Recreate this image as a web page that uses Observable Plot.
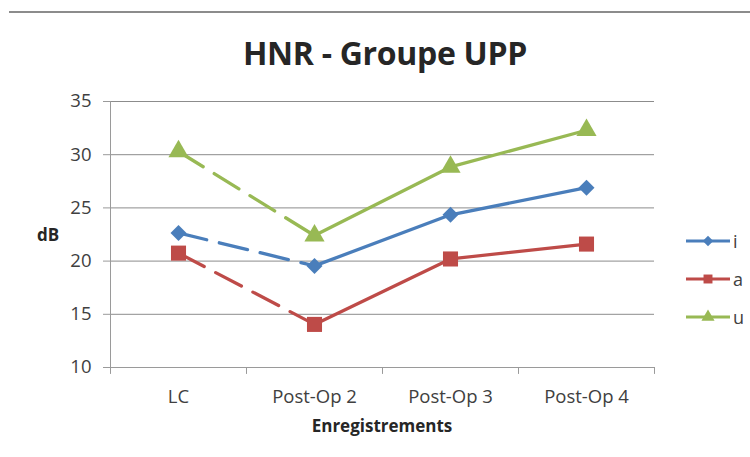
<!DOCTYPE html>
<html><head><meta charset="utf-8">
<script src="https://cdn.jsdelivr.net/npm/d3@7"></script>
<script src="https://cdn.jsdelivr.net/npm/@observablehq/plot@0.6"></script>
<style>
body{margin:0;background:#fff;font-family:"Open Sans",Lato,sans-serif;}
#chart{position:relative;width:750px;height:457px;overflow:hidden;background:#fff;}
#chart svg.plot{position:absolute;left:0;top:0;}
#frame{position:absolute;left:9px;top:11px;right:0;height:2px;background:#8c8c8c;}
#title{position:absolute;left:0;width:770px;top:31px;text-align:center;font-size:32px;font-weight:bold;color:#262626;line-height:44px;letter-spacing:-0.3px;}
#ylab{position:absolute;left:37px;top:224px;font-size:17px;font-weight:bold;color:#262626;line-height:22px;}
#xlab{position:absolute;left:110px;width:544px;top:415px;text-align:center;font-size:17px;font-weight:bold;color:#262626;line-height:22px;}
#legend{position:absolute;left:686px;top:222px;}
.item{display:flex;align-items:center;height:38px;font-size:18px;color:#404040;}
.item svg{display:block;margin-right:3px;}
</style>
</head><body>
<div id="chart">
  <div id="frame"></div>
  <div id="title"></div>
  <div id="ylab"></div>
  <div id="xlab"></div>
  <div id="legend"></div>
</div>
<script>
const title = "HNR - Groupe UPP";
const yTitle = "dB";
const xTitle = "Enregistrements";
const categories = ["LC", "Post-Op 2", "Post-Op 3", "Post-Op 4"];
const seriesNames = ["i", "a", "u"];
const valuesI = [22.65, 19.55, 24.35, 26.9];
const valuesA = [20.75, 14.05, 20.2, 21.6];
const valuesU = [30.3, 22.4, 28.85, 32.3];
const yTicks = [10, 15, 20, 25, 30, 35];
const colors = ["#4A7EBB", "#BE4B48", "#98B954"];
const symbols = ["diamond2", "square", "triangle"];
const markerR = [7.2, 8.5, 7.5];

const seriesValues = [valuesI, valuesA, valuesU];
const rows = seriesNames.flatMap((s, k) =>
  seriesValues[k].map((v, i) => ({series: s, idx: i, value: v})));
const boundaries = categories.map((_, i) => i - 0.5).concat([categories.length - 0.5]);

document.getElementById("title").textContent = title;
document.getElementById("ylab").textContent = yTitle;
document.getElementById("xlab").textContent = xTitle;

const plot = Plot.plot({
  width: 750,
  height: 457,
  marginLeft: 110,
  marginRight: 96,
  marginTop: 101,
  marginBottom: 90,
  style: {fontFamily: "'Open Sans', Lato, sans-serif", fontSize: "18px", background: "transparent", overflow: "visible"},
  x: {domain: [-0.5, categories.length - 0.5], axis: null},
  y: {domain: [10, 35], axis: null},
  color: {domain: seriesNames, range: colors},
  symbol: {domain: seriesNames, range: symbols},
  marks: [
    Plot.gridY(yTicks, {stroke: "#8c8c8c", strokeOpacity: 1}),
    Plot.axisY(yTicks, {tickSize: 7, tickPadding: 12, stroke: "#9a9a9a", fill: "#404040", label: null, fontSize: 18.5}),
    Plot.axisX(categories.map((_, i) => i), {tickSize: 0, tickPadding: 22, tickFormat: i => categories[i], fill: "#404040", label: null, fontSize: 18.5}),
    Plot.ruleX([-0.5], {y1: 10, y2: 35, stroke: "#9a9a9a"}),
    Plot.ruleX(boundaries, {y1: 10, y2: 9.35, stroke: "#9a9a9a"}),
    Plot.ruleY([10], {stroke: "#9a9a9a"}),
    Plot.line(rows.filter(d => d.idx <= 1), {x: "idx", y: "value", z: "series", stroke: "series", strokeWidth: 3.3, strokeDasharray: "29,13", strokeLinejoin: "round"}),
    Plot.line(rows.filter(d => d.idx >= 1), {x: "idx", y: "value", z: "series", stroke: "series", strokeWidth: 3.3, strokeLinejoin: "round"}),
    ...seriesNames.map((s, k) =>
      Plot.dot(rows.filter(d => d.series === s), {x: "idx", y: "value", symbol: "series", fill: "series", stroke: "none", r: markerR[k]}))
  ]
});
plot.classList.add("plot");
document.getElementById("chart").insertBefore(plot, document.getElementById("frame"));

const legend = d3.select("#legend");
const d3Symbols = {diamond2: d3.symbolDiamond2, square: d3.symbolSquare, triangle: d3.symbolTriangle};
const legendSize = [70, 80, 75];
seriesNames.forEach((s, k) => {
  const item = legend.append("div").attr("class", "item");
  const svg = item.append("svg").attr("width", 44).attr("height", 18);
  svg.append("line").attr("x1", 0).attr("x2", 44).attr("y1", 9).attr("y2", 9)
    .attr("stroke", colors[k]).attr("stroke-width", 3);
  svg.append("path").attr("transform", "translate(22,9)")
    .attr("d", d3.symbol(d3Symbols[symbols[k]], legendSize[k])())
    .attr("fill", colors[k]);
  item.append("span").text(s);
});
</script>
</body></html>
